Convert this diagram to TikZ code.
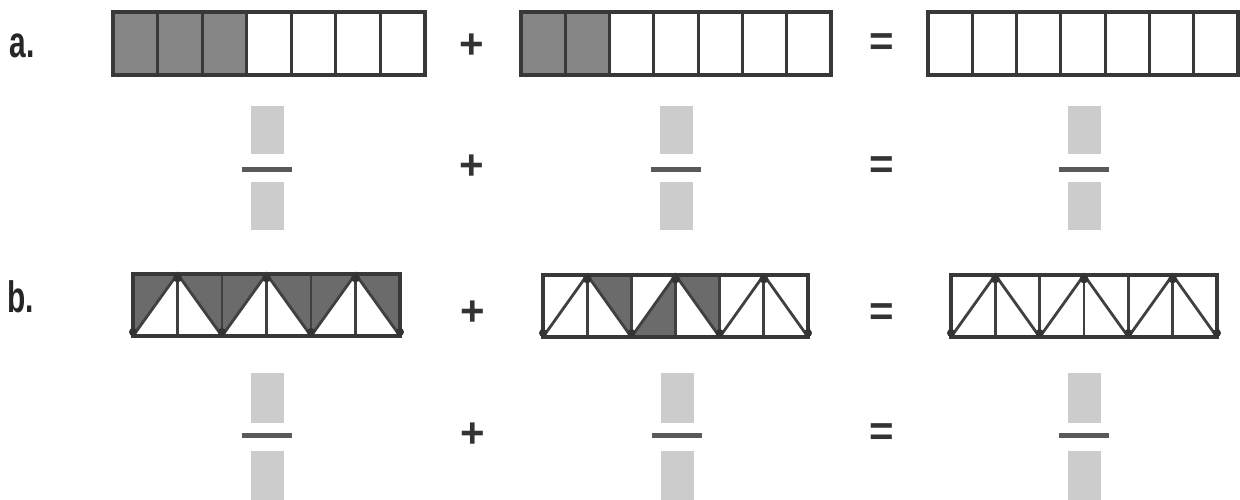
\documentclass[tikz,border=0pt]{standalone}
\usepackage{fontspec}
\setmainfont{Liberation Sans}
\usepackage{graphicx}
\newcommand\drawtruss[3]{%
  % #1 = left x, #2 = cell width, #3 = top y (height 62)
  \foreach \i in {1,...,5} \draw[trussline] ({#1+\i*#2},#3) -- ({#1+\i*#2},{#3+62});
  \foreach \i in {0,2,4} \draw[trussline] ({#1+\i*#2},{#3+62}) -- ({#1+(\i+1)*#2},#3) -- ({#1+(\i+2)*#2},{#3+62});
  \draw[stripline] (#1,#3) rectangle ({#1+6*#2},{#3+62});
  \foreach \i in {1,3,5} \fill[black!80] ({#1+\i*#2},{#3+4}) circle (2.2pt);
  \foreach \i in {0,2,4,6} \fill[black!80] ({#1+\i*#2},{#3+58}) circle (2pt);
}
\begin{document}
\begin{tikzpicture}[x=0.5pt,y=-0.5pt,
  stripline/.style={draw=black!78, line width=1.9pt},
  cellline/.style={draw=black!78, line width=1.6pt},
  trussline/.style={draw=black!75, line width=1.4pt, line cap=round},
  shadeA/.style={fill=black!48},
  shadeB/.style={fill=black!58},
  graybox/.style={fill=black!20, draw=none, minimum width=16.5pt, minimum height=24pt, inner sep=0pt},
  fracbar/.style={draw=black!65, line width=2.2pt},
  sign/.style={text=black!80, inner sep=0pt, font=\bfseries\fontsize{21}{21}\selectfont},
  lab/.style={text=black!85, inner sep=0pt, font=\bfseries\fontsize{22}{22}\selectfont}]
\useasboundingbox[fill=white] (0,0) rectangle (1240,499);

% labels
\node[lab] (la) at (22,46) {\scalebox{0.68}[1]{a.}};
\node[lab] (lb) at (21,297) {\scalebox{0.68}[1]{b.}};

% ---- row a strips
\fill[shadeA] (113,12) rectangle ({113+3*312/7},75);
\foreach \i in {1,...,6} \draw[cellline] ({113+\i*312/7},12) -- ({113+\i*312/7},75);
\draw[stripline] (113,12) rectangle (425,75);

\fill[shadeA] (521,12) rectangle ({521+2*310/7},75);
\foreach \i in {1,...,6} \draw[cellline] ({521+\i*310/7},12) -- ({521+\i*310/7},75);
\draw[stripline] (521,12) rectangle (831,75);

\foreach \i in {1,...,6} \draw[cellline] ({928+\i*310/7},12) -- ({928+\i*310/7},75);
\draw[stripline] (928,12) rectangle (1238,75);

\node[sign] (pa1) at (472,46) {+};
\node[sign] (ea1) at (882,45) {=};

% ---- row a fractions
\node[graybox] (fa1n) at (267,130) {};
\node[graybox] (fa1d) at (267,206) {};
\draw[fracbar] (fa1n.south) ++(-25,15) coordinate (ba1l) -- ++(50,0) coordinate (ba1r);
\node[graybox] (fa2n) at (676,130) {};
\node[graybox] (fa2d) at (676,206) {};
\draw[fracbar] (fa2n.south) ++(-25,15) coordinate (ba2l) -- ++(50,0) coordinate (ba2r);
\node[graybox] (fa3n) at (1084,130) {};
\node[graybox] (fa3d) at (1084,206) {};
\draw[fracbar] (fa3n.south) ++(-25,15) coordinate (ba3l) -- ++(50,0) coordinate (ba3r);
\node[sign] (pa2) at (472,167) {+};
\node[sign] (ea2) at (882,168) {=};

% ---- row b strips
% strip b1: all upper triangles shaded
\foreach \i in {0,2,4} {
  \fill[shadeB] ({133+\i*44.5},274) -- ({133+\i*44.5},336) -- ({133+(\i+1)*44.5},274) -- cycle;
  \fill[shadeB] ({133+(\i+1)*44.5},274) -- ({133+(\i+2)*44.5},274) -- ({133+(\i+2)*44.5},336) -- cycle;
}
\drawtruss{133}{44.5}{274}

% strip b2: three triangles shaded
\fill[shadeB] ({543+1*44.17},275) -- ({543+2*44.17},275) -- ({543+2*44.17},337) -- cycle;
\fill[shadeB] ({543+2*44.17},337) -- ({543+3*44.17},337) -- ({543+3*44.17},275) -- cycle;
\fill[shadeB] ({543+3*44.17},275) -- ({543+4*44.17},275) -- ({543+4*44.17},337) -- cycle;
\drawtruss{543}{44.17}{275}

% strip b3
\drawtruss{951}{44.33}{275}

\node[sign] (pb1) at (473,313) {+};
\node[sign] (eb1) at (882,315) {=};

% ---- row b fractions
\node[graybox, minimum height=25pt] (fb1n) at (267,398) {};
\node[graybox, minimum height=25pt] (fb1d) at (267,476) {};
\draw[fracbar] (fb1n.south) ++(-25,12) coordinate (bb1l) -- ++(50,0) coordinate (bb1r);
\node[graybox, minimum height=25pt] (fb2n) at (677,398) {};
\node[graybox, minimum height=25pt] (fb2d) at (677,476) {};
\draw[fracbar] (fb2n.south) ++(-25,12) coordinate (bb2l) -- ++(50,0) coordinate (bb2r);
\node[graybox, minimum height=25pt] (fb3n) at (1084,398) {};
\node[graybox, minimum height=25pt] (fb3d) at (1084,476) {};
\draw[fracbar] (fb3n.south) ++(-25,12) coordinate (bb3l) -- ++(50,0) coordinate (bb3r);
\node[sign] (pb2) at (473,435) {+};
\node[sign] (eb2) at (882,435) {=};
\end{tikzpicture}
\end{document}
